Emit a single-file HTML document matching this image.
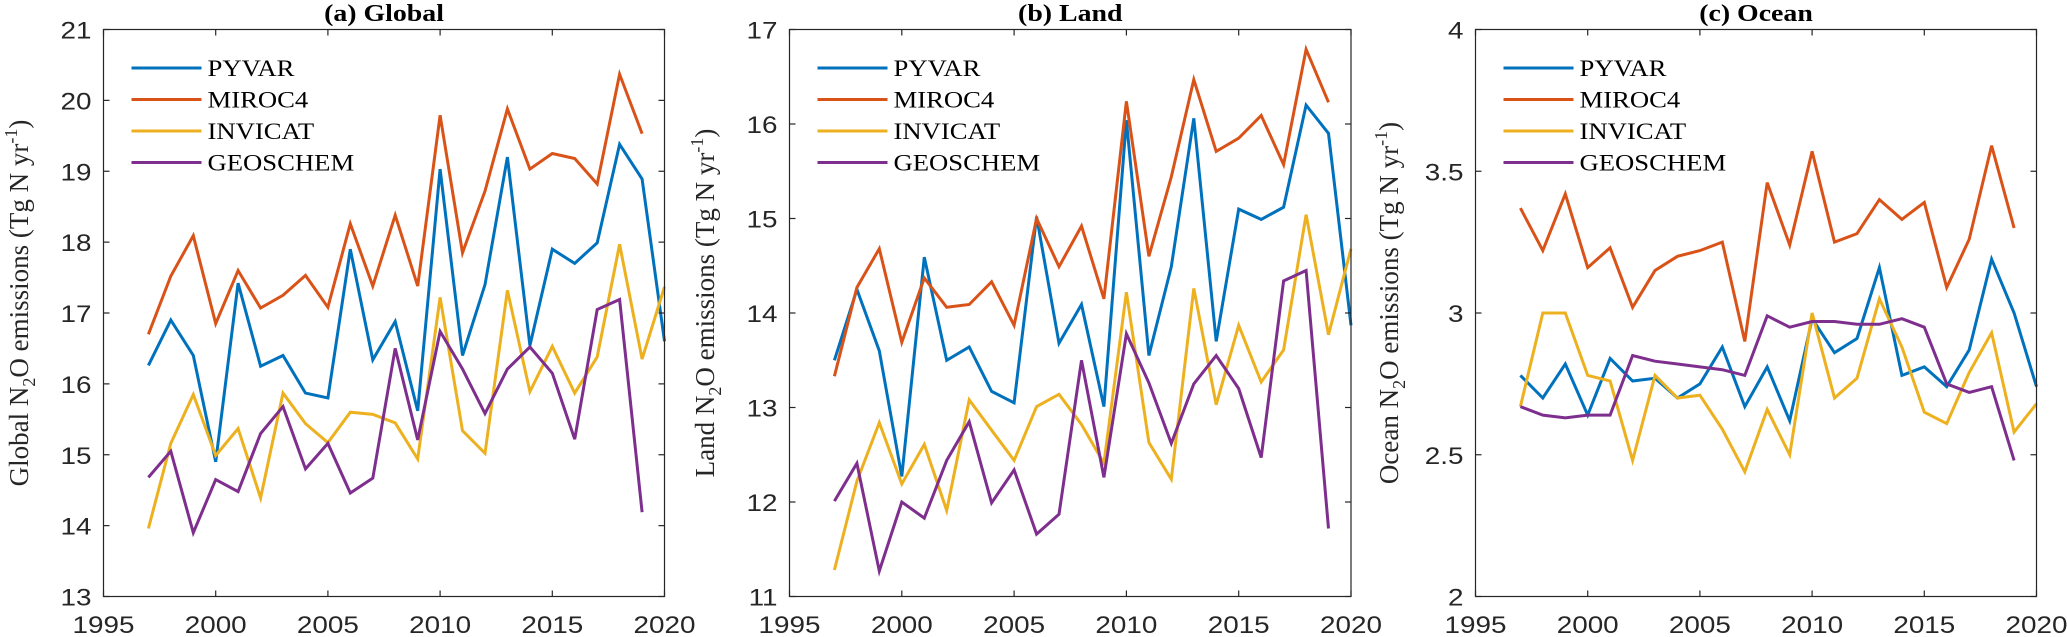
<!DOCTYPE html>
<html><head><meta charset="utf-8"><style>
html,body{margin:0;padding:0;background:#fff;}
svg{display:block;}
</style></head><body>
<svg id="chart" width="2067" height="637" xmlns="http://www.w3.org/2000/svg"></svg>
<script>
const years = [1997,1998,1999,2000,2001,2002,2003,2004,2005,2006,2007,2008,2009,2010,2011,2012,2013,2014,2015,2016,2017,2018,2019,2020];
const seriesNames = ["PYVAR","MIROC4","INVICAT","GEOSCHEM"];
const globalPyvar = [16.26,16.9,16.4,14.9,17.42,16.25,16.4,15.87,15.8,17.9,16.34,16.88,15.62,19.03,16.4,17.4,19.2,16.54,17.9,17.7,17.99,19.38,18.89,16.6];
const globalMiroc = [16.7,17.52,18.09,16.85,17.6,17.07,17.25,17.53,17.08,18.26,17.38,18.38,17.38,19.79,17.85,18.72,19.88,19.03,19.25,19.18,18.82,20.37,19.53];
const globalInvicat = [13.96,15.16,15.85,14.99,15.37,14.39,15.87,15.44,15.17,15.6,15.57,15.45,14.94,17.22,15.34,15.02,17.32,15.89,16.53,15.87,16.38,17.97,16.35,17.37];
const globalGeos = [14.68,15.05,13.9,14.65,14.48,15.3,15.68,14.8,15.16,14.46,14.67,16.5,15.21,16.74,16.21,15.58,16.21,16.52,16.15,15.22,17.05,17.19,14.19];
const landPyvar = [13.5,14.25,13.6,12.27,14.59,13.5,13.64,13.17,13.05,15.02,13.68,14.09,13.01,16.04,13.55,14.49,16.06,13.7,15.1,14.99,15.12,16.2,15.9,13.87];
const landMiroc = [13.33,14.27,14.68,13.69,14.37,14.06,14.09,14.33,13.87,15.0,14.49,14.92,14.15,16.24,14.6,15.44,16.47,15.71,15.85,16.09,15.57,16.79,16.23];
const landInvicat = [11.28,12.22,12.84,12.19,12.61,11.91,13.08,12.76,12.44,13.01,13.14,12.82,12.41,14.22,12.63,12.24,14.26,13.03,13.87,13.27,13.61,15.04,13.77,14.68];
const landGeos = [12.01,12.41,11.27,12.0,11.83,12.44,12.85,11.99,12.34,11.66,11.87,13.5,12.26,13.78,13.26,12.62,13.25,13.55,13.2,12.47,14.34,14.45,11.72];
const oceanPyvar = [2.78,2.7,2.82,2.64,2.84,2.76,2.77,2.7,2.75,2.88,2.67,2.81,2.62,2.98,2.86,2.91,3.16,2.78,2.81,2.74,2.87,3.19,3.0,2.74];
const oceanMiroc = [3.37,3.22,3.42,3.16,3.23,3.02,3.15,3.2,3.22,3.25,2.9,3.46,3.24,3.57,3.25,3.28,3.4,3.33,3.39,3.09,3.26,3.59,3.3];
const oceanInvicat = [2.67,3.0,3.0,2.78,2.76,2.48,2.78,2.7,2.71,2.59,2.44,2.66,2.5,3.0,2.7,2.77,3.05,2.88,2.65,2.61,2.79,2.93,2.58,2.68];
const oceanGeos = [2.67,2.64,2.63,2.64,2.64,2.85,2.83,2.82,2.81,2.8,2.78,2.99,2.95,2.97,2.97,2.96,2.96,2.98,2.95,2.75,2.72,2.74,2.48];
const xTicks = [1995,2000,2005,2010,2015,2020];
const globalYTicks = [13,14,15,16,17,18,19,20,21];
const landYTicks = [11,12,13,14,15,16,17];
const oceanYTicks = [2,2.5,3,3.5,4];
const oceanYTickLabels = ["2","2.5","3","3.5","4"];

const colors = ["#0072BD","#D95319","#EDB120","#7E2F8E"];
const NS = "http://www.w3.org/2000/svg";
const svg = document.getElementById("chart");
const SX = 1.16;
function mk(tag, attrs, parent){const e=document.createElementNS(NS,tag);for(const k in attrs)e.setAttribute(k,attrs[k]);(parent||svg).appendChild(e);return e;}

const panels = [
 {key:"global",title:"(a) Global",label:"Global",x0:103.5,x1:664.5,ymin:13,ymax:21,ticks:globalYTicks,tickLabels:globalYTicks.map(String),series:[globalPyvar,globalMiroc,globalInvicat,globalGeos],labelX:28},
 {key:"land",title:"(b) Land",label:"Land",x0:789.5,x1:1351,ymin:11,ymax:17,ticks:landYTicks,tickLabels:landYTicks.map(String),series:[landPyvar,landMiroc,landInvicat,landGeos],labelX:714},
 {key:"ocean",title:"(c) Ocean",label:"Ocean",x0:1475.5,x1:2036.5,ymin:2,ymax:4,ticks:oceanYTicks,tickLabels:oceanYTickLabels,series:[oceanPyvar,oceanMiroc,oceanInvicat,oceanGeos],labelX:1398}
];
const yTop=29.5, yBot=596.5;

panels.forEach(p=>{
  const g = mk("g",{});
  
  
  const sx = v => p.x0 + (v-1995)/(2020-1995)*(p.x1-p.x0);
  const sy = v => yBot - (v-p.ymin)/(p.ymax-p.ymin)*(yBot-yTop);
  p.series.forEach((vals,si)=>{
    const pts = vals.map((v,i)=>sx(years[i]).toFixed(1)+","+sy(v).toFixed(1)).join(" ");
    const pl = mk("polyline",{points:pts,fill:"none",stroke:colors[si],"stroke-width":3},g);
    
    
  });
  const box = mk("rect",{x:p.x0,y:yTop,width:p.x1-p.x0,height:yBot-yTop,fill:"none",stroke:"#262626","stroke-width":1.2},g);
  
  
  p.ticks.forEach((t,i)=>{
    const y=sy(t);
    mk("line",{x1:p.x0,x2:p.x0+6,y1:y,y2:y,stroke:"#262626","stroke-width":1.2},g);
    mk("line",{x1:p.x1,x2:p.x1-6,y1:y,y2:y,stroke:"#262626","stroke-width":1.2},g);
    const tx = mk("text",{transform:`translate(${p.x0-12},${y+9}) scale(${SX},1)`,"text-anchor":"end","font-family":"Liberation Sans, Arial, sans-serif","font-size":24,fill:"#262626"},g);
    tx.textContent=p.tickLabels[i];
    
    
  });
  xTicks.forEach(t=>{
    const x=sx(t);
    mk("line",{x1:x,x2:x,y1:yBot,y2:yBot-6,stroke:"#262626","stroke-width":1.2},g);
    mk("line",{x1:x,x2:x,y1:yTop,y2:yTop+6,stroke:"#262626","stroke-width":1.2},g);
    const tx = mk("text",{transform:`translate(${x},633) scale(${SX},1)`,"text-anchor":"middle","font-family":"Liberation Sans, Arial, sans-serif","font-size":24,fill:"#262626"},g);
    tx.textContent=String(t);
    
    
  });
  const ti = mk("text",{transform:`translate(${(p.x0+p.x1)/2},21) scale(${SX},1)`,"text-anchor":"middle","font-family":"Liberation Serif, Times New Roman, serif","font-size":24,"font-weight":"bold",fill:"#000"},g);
  ti.textContent=p.title;
  
  
  const yl = mk("text",{x:0,y:0,transform:`translate(${p.labelX},${yTop+(yBot-yTop)/2-10}) rotate(-90)`,"text-anchor":"middle","font-family":"Liberation Serif, Times New Roman, serif","font-size":27,fill:"#262626"},g);
  
  
  const parts=[[p.label+" N",0,27],["2",7,18],["O emissions (Tg N yr",-7,27],["-1",-11,18],[")",11,27]];
  parts.forEach(([s,dy,fs])=>{const ts=mk("tspan",{dy:dy,"font-size":fs},yl);ts.textContent=s;});
  const lg = mk("g",{},g);
  
  
  const lx = p.x0+28;
  seriesNames.forEach((n,si)=>{
    const y = 68 + si*31.5;
    const ln = mk("line",{x1:lx,x2:lx+70,y1:y,y2:y,stroke:colors[si],"stroke-width":3},lg);
    
    
    const t = mk("text",{transform:`translate(${lx+76},${y+8}) scale(${SX},1)`,"font-family":"Liberation Serif, Times New Roman, serif","font-size":23,fill:"#000"},lg);
    t.textContent=n;
    
    
  });
});
</script>
</body></html>
